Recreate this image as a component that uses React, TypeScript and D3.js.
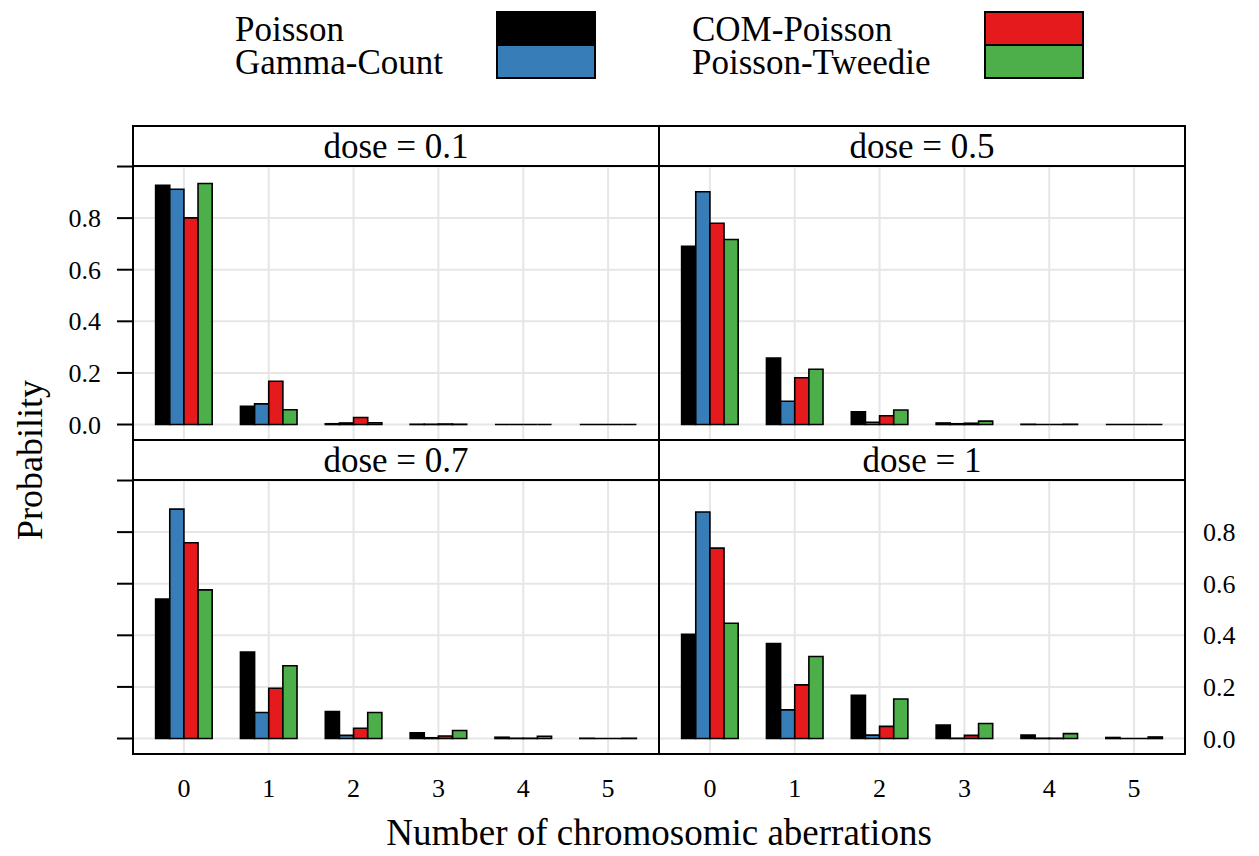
import React from "react";
import * as d3 from "d3";

// count categories and panels
const counts = ["0", "1", "2", "3", "4", "5"];
const doses = ["0.1", "0.5", "0.7", "1"];
const seriesNames = ["Poisson", "Gamma-Count", "COM-Poisson", "Poisson-Tweedie"];
const seriesColors = ["#000000", "#377EB8", "#E41A1C", "#4DAF4A"];
const yTicks = [0, 0.2, 0.4, 0.6, 0.8, 1.0];

// probabilities, one row per dose (0.1, 0.5, 0.7, 1)
const poisson = [
  [0.927, 0.071, 0.003, 0.001, 0.0, 0.0],
  [0.691, 0.258, 0.049, 0.006, 0.001, 0.0],
  [0.541, 0.335, 0.105, 0.022, 0.005, 0.001],
  [0.404, 0.368, 0.168, 0.052, 0.013, 0.004],
];
const gammaCount = [
  [0.912, 0.08, 0.006, 0.001, 0.0, 0.0],
  [0.902, 0.09, 0.009, 0.003, 0.0, 0.0],
  [0.889, 0.101, 0.012, 0.003, 0.001, 0.0],
  [0.878, 0.111, 0.013, 0.001, 0.001, 0.0],
];
const comPoisson = [
  [0.801, 0.168, 0.027, 0.002, 0.0, 0.0],
  [0.78, 0.181, 0.034, 0.005, 0.0, 0.0],
  [0.759, 0.195, 0.04, 0.01, 0.001, 0.0],
  [0.738, 0.208, 0.047, 0.012, 0.001, 0.0],
];
const poissonTweedie = [
  [0.934, 0.057, 0.007, 0.001, 0.0, 0.0],
  [0.717, 0.214, 0.056, 0.013, 0.001, 0.0],
  [0.576, 0.282, 0.101, 0.031, 0.009, 0.001],
  [0.447, 0.318, 0.153, 0.058, 0.019, 0.006],
];
const allSeries = [poisson, gammaCount, comPoisson, poissonTweedie];

const W = 1259;
const H = 856;
const FONT = "Liberation Serif";

const frameL = 133;
const frameR = 1185;
const frameT = 126;
const stripH = 40;
const plotH = 274;
const panelW = (frameR - frameL) / 2;

const x = d3
  .scaleBand<string>()
  .domain(counts)
  .range([0, panelW])
  .paddingInner(0)
  .paddingOuter(0.1);
const groupW = (x.step() * 2) / 3;
const xs = d3
  .scaleBand<string>()
  .domain(seriesNames)
  .range([-groupW / 2, groupW / 2]);
const y = d3.scaleLinear().domain([-0.06, 1.002]).range([plotH, 0]);

const barPath = (x0: number, w: number, v: number) => {
  const p = d3.path();
  p.moveTo(x0, y(0));
  p.lineTo(x0 + w, y(0));
  p.lineTo(x0 + w, y(v));
  p.lineTo(x0, y(v));
  p.closePath();
  return p.toString();
};

const Panel = ({ di, col, row }: { di: number; col: number; row: number }) => {
  const px = frameL + col * panelW;
  const py = frameT + row * (stripH + plotH);
  const plotTop = py + stripH;
  return (
    <g>
      {/* strip */}
      <rect x={px} y={py} width={panelW} height={stripH} fill="white" stroke="black" strokeWidth={2} />
      <text
        x={px + panelW / 2}
        y={py + 32}
        textAnchor="middle"
        fontSize={35}
        fontFamily={FONT}
      >
        {`dose = ${doses[di]}`}
      </text>
      <g transform={`translate(${px},${plotTop})`}>
        {yTicks.map((t) => (
          <line key={"h" + t} x1={0} x2={panelW} y1={y(t)} y2={y(t)} stroke="#e6e6e6" strokeWidth={2} />
        ))}
        {counts.map((c) => {
          const cx = (x(c) as number) + x.bandwidth() / 2;
          return <line key={"v" + c} x1={cx} x2={cx} y1={0} y2={plotH} stroke="#e6e6e6" strokeWidth={2} />;
        })}
        {counts.map((c, ci) => {
          const cx = (x(c) as number) + x.bandwidth() / 2;
          return seriesNames.map((s, si) => {
            const v = allSeries[si][di][ci];
            return (
              <path
                key={c + s}
                d={barPath(cx + (xs(s) as number), xs.bandwidth(), v)}
                fill={seriesColors[si]}
                stroke="black"
                strokeWidth={1.6}
              />
            );
          });
        })}
        <rect x={0} y={0} width={panelW} height={plotH} fill="none" stroke="black" strokeWidth={2} />
        {col === 0 &&
          yTicks.map((t) => (
            <line key={"tk" + t} x1={-16} x2={0} y1={y(t)} y2={y(t)} stroke="black" strokeWidth={2} />
          ))}
        {col === 0 &&
          row === 0 &&
          yTicks
            .filter((t) => t < 0.9)
            .map((t) => (
              <text
                key={"tl" + t}
                x={-32}
                y={y(t)}
                dy="0.35em"
                textAnchor="end"
                fontSize={26}
                fontFamily={FONT}
              >
                {d3.format(".1f")(t)}
              </text>
            ))}
        {col === 1 &&
          row === 1 &&
          yTicks
            .filter((t) => t < 0.9)
            .map((t) => (
              <text
                key={"tr" + t}
                x={panelW + 18}
                y={y(t)}
                dy="0.35em"
                textAnchor="start"
                fontSize={26}
                fontFamily={FONT}
              >
                {d3.format(".1f")(t)}
              </text>
            ))}
        {row === 1 &&
          counts.map((c) => (
            <text
              key={"xl" + c}
              x={(x(c) as number) + x.bandwidth() / 2}
              y={plotH + 43}
              textAnchor="middle"
              fontSize={26}
              fontFamily={FONT}
            >
              {c}
            </text>
          ))}
      </g>
    </g>
  );
};

const Legend = () => {
  const cols = [
    { tx: 235, rx: 497, items: [0, 1] },
    { tx: 692, rx: 985, items: [2, 3] },
  ];
  return (
    <g>
      {cols.map((c, k) => (
        <g key={k}>
          {c.items.map((si, j) => (
            <g key={si}>
              <text x={c.tx} y={41 + j * 33} fontSize={35} fontFamily={FONT}>
                {seriesNames[si]}
              </text>
              <rect
                x={c.rx}
                y={12 + j * 33}
                width={98}
                height={33}
                fill={seriesColors[si]}
                stroke="black"
                strokeWidth={2}
              />
            </g>
          ))}
        </g>
      ))}
    </g>
  );
};

export default function App() {
  return (
    <svg
      width={W}
      height={H}
      style={{ position: "absolute", left: 0, top: 0, background: "white" }}
    >
      <rect width={W} height={H} fill="white" />
      <Legend />
      <Panel di={0} col={0} row={0} />
      <Panel di={1} col={1} row={0} />
      <Panel di={2} col={0} row={1} />
      <Panel di={3} col={1} row={1} />
      <text
        x={(frameL + frameR) / 2}
        y={845}
        textAnchor="middle"
        fontSize={37}
        fontFamily={FONT}
      >
        Number of chromosomic aberrations
      </text>
      <text
        transform={`translate(42,${frameT + stripH + plotH + 20}) rotate(-90)`}
        textAnchor="middle"
        fontSize={36}
        fontFamily={FONT}
      >
        Probability
      </text>
    </svg>
  );
}
